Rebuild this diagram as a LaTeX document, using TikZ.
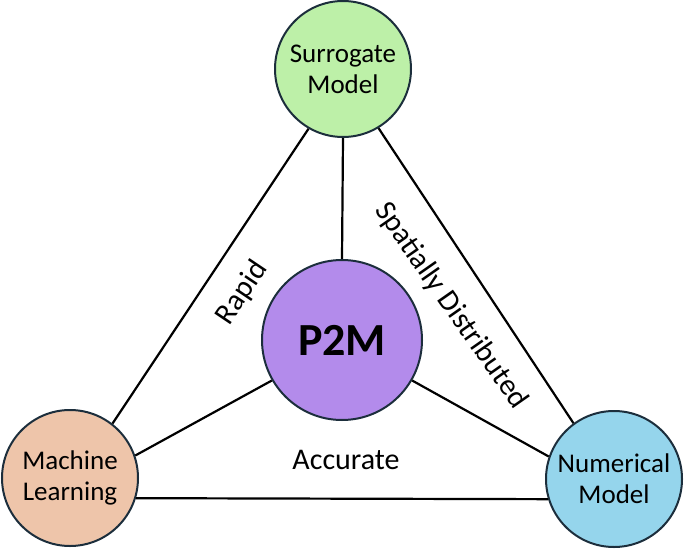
\documentclass[tikz,border=0pt]{standalone}
\usepackage{fontspec}
\setmainfont{Carlito}
\usepackage{xcolor}

\definecolor{sgreen}{HTML}{BDF0A8}
\definecolor{mlpeach}{HTML}{EEC5AA}
\definecolor{nmblue}{HTML}{95D5EC}
\definecolor{ptmpurple}{HTML}{B38BEB}
\definecolor{rimblue}{HTML}{1C2E3C}

\begin{document}
\begin{tikzpicture}[x=1pt,y=-1pt,
  bubble/.style={circle,draw=rimblue,line width=2pt,minimum size=136pt,inner sep=0pt,align=center,font=\fontsize{27}{31}\selectfont},
  link/.style={line width=2.2pt,draw=black},
  lbl/.style={inner sep=0pt,font=\fontsize{30}{34}\selectfont}]
\useasboundingbox (0,0) rectangle (685,551);
% the links go below the circles
\node[bubble,fill=sgreen] (sm) at (343,69) {Surrogate\\Model};
\node[bubble,fill=mlpeach] (ml) at (70,478) {Machine\\Learning};
\node[bubble,fill=nmblue] (nm) at (614,479) {Numerical\\Model};
\node[bubble,fill=ptmpurple,minimum size=160pt,font=\fontsize{46}{52}\selectfont\bfseries] (ptm) at (342,340) {P2M};

\draw[link] (sm.240) -- (ml.52);
\draw[link] (sm.301) -- (nm.126);
\draw[link] (ml.-17) -- (nm.197);
\draw[link] (sm.south) -- (ptm.north);
\draw[link] (ptm.210) -- (ml.19);
\draw[link] (ptm.-30) -- (nm.161);

\node[lbl,rotate=56] (rapid) at (242,293) {Rapid};
\node[lbl,rotate=-55] (spatial) at (451,306) {Spatially Distributed};
\node[lbl] (accurate) at (346,460) {Accurate};
\end{tikzpicture}
\end{document}
